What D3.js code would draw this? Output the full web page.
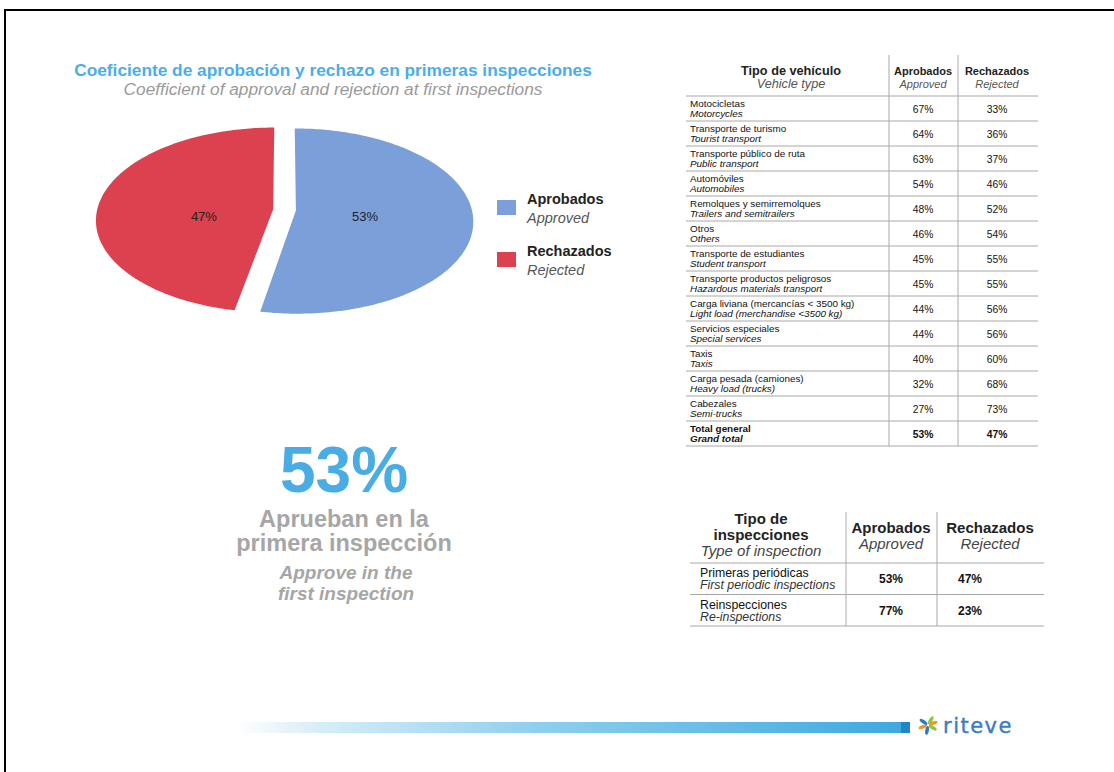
<!DOCTYPE html>
<html>
<head>
<meta charset="utf-8">
<script src="https://cdn.jsdelivr.net/npm/d3@7"></script>
<style>
  body { margin: 0; background: #fff; }
  svg { display: block; font-family: "Liberation Sans", Arial, Helvetica, sans-serif; }
</style>
</head>
<body>
<svg id="chart" width="1114" height="772"></svg>
<script>
// pie data
var pieEs = ['Aprobados', 'Rechazados'];
var pieEn = ['Approved', 'Rejected'];
var pieValues = [53, 47];
var pieColors = ['#7b9fd8', '#db414e'];

// vehicle table
var vehicleHeadEs = ['Tipo de vehículo', 'Aprobados', 'Rechazados'];
var vehicleHeadEn = ['Vehicle type', 'Approved', 'Rejected'];
var vehicleEs = ['Motocicletas', 'Transporte de turismo', 'Transporte público de ruta', 'Automóviles',
    'Remolques y semirremolques', 'Otros', 'Transporte de estudiantes', 'Transporte productos peligrosos',
    'Carga liviana (mercancías < 3500 kg)', 'Servicios especiales', 'Taxis', 'Carga pesada (camiones)',
    'Cabezales', 'Total general'];
var vehicleEn = ['Motorcycles', 'Tourist transport', 'Public transport', 'Automobiles',
    'Trailers and semitrailers', 'Others', 'Student transport', 'Hazardous materials transport',
    'Light load (merchandise <3500 kg)', 'Special services', 'Taxis', 'Heavy load (trucks)',
    'Semi-trucks', 'Grand total'];
var vehicleApproved = [67, 64, 63, 54, 48, 46, 45, 45, 44, 44, 40, 32, 27, 53];
var vehicleRejected = [33, 36, 37, 46, 52, 54, 55, 55, 56, 56, 60, 68, 73, 47];

// inspection table
var inspHeadEs = [['Tipo de', 'inspecciones'], ['Aprobados'], ['Rechazados']];
var inspHeadEn = ['Type of inspection', 'Approved', 'Rejected'];
var inspEs = ['Primeras periódicas', 'Reinspecciones'];
var inspEn = ['First periodic inspections', 'Re-inspections'];
var inspApproved = [53, 77];
var inspRejected = [47, 23];

var svg = d3.select('#chart');
var pct = function (v) { return v + '%'; };

// frame
svg.append('line').attr('x1', 4).attr('x2', 1114).attr('y1', 10).attr('y2', 10)
    .attr('stroke', '#000').attr('stroke-width', 2);
svg.append('line').attr('x1', 5).attr('x2', 5).attr('y1', 9).attr('y2', 772)
    .attr('stroke', '#000').attr('stroke-width', 2);

// titles
svg.append('text').attr('x', 333).attr('y', 76).attr('text-anchor', 'middle')
    .attr('font-size', 17.3).attr('font-weight', 'bold').attr('fill', '#4baee6')
    .text('Coeficiente de aprobación y rechazo en primeras inspecciones');
svg.append('text').attr('x', 333).attr('y', 95).attr('text-anchor', 'middle')
    .attr('font-size', 17.3).attr('font-style', 'italic').attr('fill', '#9a9a9a')
    .text('Coefficient of approval and rejection at first inspections');

// pie, drawn as a tilted disc with a little perspective
var cx = 284.5, cy = 210, R = 176, H = 91.3, k = 0.1135, explode = 0.065;
function project(u, v) {
    return [cx + R * u / (1 + k * v), cy - H * v / (1 + k * v)];
}
var pie = d3.pie().sort(null).startAngle(0).endAngle(2 * Math.PI);
var arcs = pie(pieValues);

function slicePoints(d) {
    var mid = (d.startAngle + d.endAngle) / 2;
    var du = explode * Math.sin(mid), dv = explode * Math.cos(mid);
    var pts = [project(du, dv)];
    var steps = Math.ceil((d.endAngle - d.startAngle) / (Math.PI / 180));
    for (var i = 0; i <= steps; i++) {
        var a = d.startAngle + (d.endAngle - d.startAngle) * i / steps;
        pts.push(project(du + Math.sin(a), dv + Math.cos(a)));
    }
    return pts;
}
var line = d3.line().curve(d3.curveLinearClosed);

svg.append('g').selectAll('path').data(arcs).enter().append('path')
    .attr('d', function (d) { return line(slicePoints(d)); })
    .attr('fill', function (d, i) { return pieColors[i]; });

svg.append('g').selectAll('text').data(arcs).enter().append('text')
    .attr('transform', function (d) {
        var mid = (d.startAngle + d.endAngle) / 2;
        var p = project(0.46 * Math.sin(mid), 0);
        return 'translate(' + p[0] + ',' + (p[1] + 6) + ')';
    })
    .attr('text-anchor', 'middle').attr('dy', '0.35em')
    .attr('font-size', 13).attr('fill', '#222')
    .text(function (d) { return pct(d.value); });

// legend
var legend = svg.append('g').selectAll('g').data(pieEs).enter().append('g')
    .attr('transform', function (d, i) { return 'translate(497,' + (200 + i * 52) + ')'; });
legend.append('rect').attr('width', 19).attr('height', 15)
    .attr('fill', function (d, i) { return pieColors[i]; });
legend.append('text').attr('x', 30).attr('y', 4).attr('font-size', 14.5)
    .attr('font-weight', 'bold').attr('fill', '#222').text(function (d) { return d; });
legend.append('text').attr('x', 30).attr('y', 23).attr('font-size', 14.5)
    .attr('font-style', 'italic').attr('fill', '#555').text(function (d, i) { return pieEn[i]; });

// big figure
var big = svg.append('g').attr('text-anchor', 'middle');
big.append('text').attr('x', 344).attr('y', 492).attr('font-size', 64).attr('font-weight', 'bold')
    .attr('fill', '#49ace5').text(pct(pieValues[0]));
big.append('text').attr('x', 344).attr('y', 527).attr('font-size', 23.5).attr('font-weight', 'bold')
    .attr('fill', '#a6a6a6').text('Aprueban en la');
big.append('text').attr('x', 344).attr('y', 551).attr('font-size', 23.5).attr('font-weight', 'bold')
    .attr('fill', '#a6a6a6').text('primera inspección');
big.append('text').attr('x', 346).attr('y', 579).attr('font-size', 19).attr('font-weight', 'bold')
    .attr('font-style', 'italic').attr('fill', '#a6a6a6').text('Approve in the');
big.append('text').attr('x', 346).attr('y', 600).attr('font-size', 19).attr('font-weight', 'bold')
    .attr('font-style', 'italic').attr('fill', '#a6a6a6').text('first inspection');

// vehicle table
var t1 = svg.append('g');
var y1 = d3.scaleBand().domain(d3.range(vehicleEs.length)).range([96, 446]);
var col1 = [791, 923, 997];
var lastRow = vehicleEs.length - 1;

[889, 958].forEach(function (x) {
    t1.append('line').attr('x1', x).attr('x2', x).attr('y1', 55).attr('y2', 446)
        .attr('stroke', '#a8a8a8');
});
t1.selectAll('line.h').data([96].concat(d3.range(vehicleEs.length).map(function (i) {
    return y1(i) + y1.bandwidth();
}))).enter().append('line').attr('class', 'h')
    .attr('x1', 686).attr('x2', 1038)
    .attr('y1', function (d) { return d; }).attr('y2', function (d) { return d; })
    .attr('stroke', '#a8a8a8');

vehicleHeadEs.forEach(function (h, i) {
    var fs = i === 0 ? 12.7 : 11;
    t1.append('text').attr('x', col1[i]).attr('y', 75).attr('text-anchor', 'middle')
        .attr('font-size', fs).attr('font-weight', 'bold').attr('fill', '#222').text(h);
    t1.append('text').attr('x', col1[i]).attr('y', 88).attr('text-anchor', 'middle')
        .attr('font-size', fs).attr('font-style', 'italic').attr('fill', '#555').text(vehicleHeadEn[i]);
});

var rows1 = t1.selectAll('g.row').data(vehicleEs).enter().append('g').attr('class', 'row')
    .attr('transform', function (d, i) { return 'translate(0,' + y1(i) + ')'; })
    .attr('font-weight', function (d, i) { return i === lastRow ? 'bold' : 'normal'; })
    .attr('fill', '#111');
rows1.append('text').attr('x', 690).attr('y', 10.5).attr('font-size', 9.9)
    .text(function (d) { return d; });
rows1.append('text').attr('x', 690).attr('y', 20.5).attr('font-size', 9.9).attr('font-style', 'italic')
    .text(function (d, i) { return vehicleEn[i]; });
rows1.append('text').attr('x', col1[1]).attr('y', 16.5).attr('font-size', 10.3).attr('text-anchor', 'middle')
    .text(function (d, i) { return pct(vehicleApproved[i]); });
rows1.append('text').attr('x', col1[2]).attr('y', 16.5).attr('font-size', 10.3).attr('text-anchor', 'middle')
    .text(function (d, i) { return pct(vehicleRejected[i]); });

// inspection table
var t2 = svg.append('g');
var y2 = d3.scaleBand().domain(d3.range(inspEs.length)).range([563, 626]);
var col2 = [761, 891, 990];
[846, 937].forEach(function (x) {
    t2.append('line').attr('x1', x).attr('x2', x).attr('y1', 512).attr('y2', 626)
        .attr('stroke', '#a8a8a8');
});
t2.selectAll('line.h').data([563].concat(d3.range(inspEs.length).map(function (i) {
    return y2(i) + y2.bandwidth();
}))).enter().append('line').attr('class', 'h')
    .attr('x1', 690).attr('x2', 1044)
    .attr('y1', function (d) { return d; }).attr('y2', function (d) { return d; })
    .attr('stroke', '#a8a8a8');

inspHeadEs.forEach(function (lines, i) {
    var top = lines.length > 1 ? 524 : 533;
    lines.forEach(function (l, j) {
        t2.append('text').attr('x', col2[i]).attr('y', top + j * 16).attr('text-anchor', 'middle')
            .attr('font-size', 15).attr('font-weight', 'bold').attr('fill', '#222').text(l);
    });
    t2.append('text').attr('x', col2[i]).attr('y', top + lines.length * 16 - 0.5)
        .attr('text-anchor', 'middle').attr('font-size', 15).attr('font-style', 'italic')
        .attr('fill', '#444').text(inspHeadEn[i]);
});

var rows2 = t2.selectAll('g.row').data(inspEs).enter().append('g').attr('class', 'row')
    .attr('transform', function (d, i) { return 'translate(0,' + y2(i) + ')'; })
    .attr('fill', '#111');
rows2.append('text').attr('x', 700).attr('y', 14).attr('font-size', 12.3)
    .text(function (d) { return d; });
rows2.append('text').attr('x', 700).attr('y', 26).attr('font-size', 12.3).attr('font-style', 'italic')
    .attr('fill', '#333').text(function (d, i) { return inspEn[i]; });
rows2.append('text').attr('x', 891).attr('y', 20).attr('font-size', 12).attr('font-weight', 'bold')
    .attr('text-anchor', 'middle').text(function (d, i) { return pct(inspApproved[i]); });
rows2.append('text').attr('x', 970).attr('y', 20).attr('font-size', 12).attr('font-weight', 'bold')
    .attr('text-anchor', 'middle').text(function (d, i) { return pct(inspRejected[i]); });

// footer bar and logo
var defs = svg.append('defs');
var grad = defs.append('linearGradient').attr('id', 'bar').attr('x1', '0%').attr('x2', '100%');
grad.append('stop').attr('offset', '0%').attr('stop-color', '#ffffff');
grad.append('stop').attr('offset', '12%').attr('stop-color', '#d8eef8');
grad.append('stop').attr('offset', '45%').attr('stop-color', '#8fcfee');
grad.append('stop').attr('offset', '100%').attr('stop-color', '#3ea9df');
svg.append('rect').attr('x', 235).attr('y', 722).attr('width', 666).attr('height', 11)
    .attr('fill', 'url(#bar)');
svg.append('rect').attr('x', 901).attr('y', 722).attr('width', 9).attr('height', 11)
    .attr('fill', '#1f86c8');

var logo = svg.append('g').attr('transform', 'translate(928,725)');
var petals = [
    { a: -60, c: '#8dc63f' }, { a: -20, c: '#f7941d' }, { a: 30, c: '#8dc63f' },
    { a: 100, c: '#2e7bc4' }, { a: 160, c: '#f7941d' }, { a: 215, c: '#2e7bc4' }
];
logo.selectAll('ellipse').data(petals).enter().append('ellipse')
    .attr('cx', 5.5).attr('cy', 0).attr('rx', 4.5).attr('ry', 1.8)
    .attr('transform', function (d) { return 'rotate(' + d.a + ')'; })
    .attr('fill', function (d) { return d.c; });
svg.append('text').attr('x', 943).attr('y', 733).attr('font-size', 21)
    .attr('font-family', '"DejaVu Sans", sans-serif').attr('letter-spacing', 1.5)
    .attr('fill', '#3b7cc2').attr('stroke', '#3b7cc2').attr('stroke-width', 0.4)
    .text('riteve');
</script>
</body>
</html>
